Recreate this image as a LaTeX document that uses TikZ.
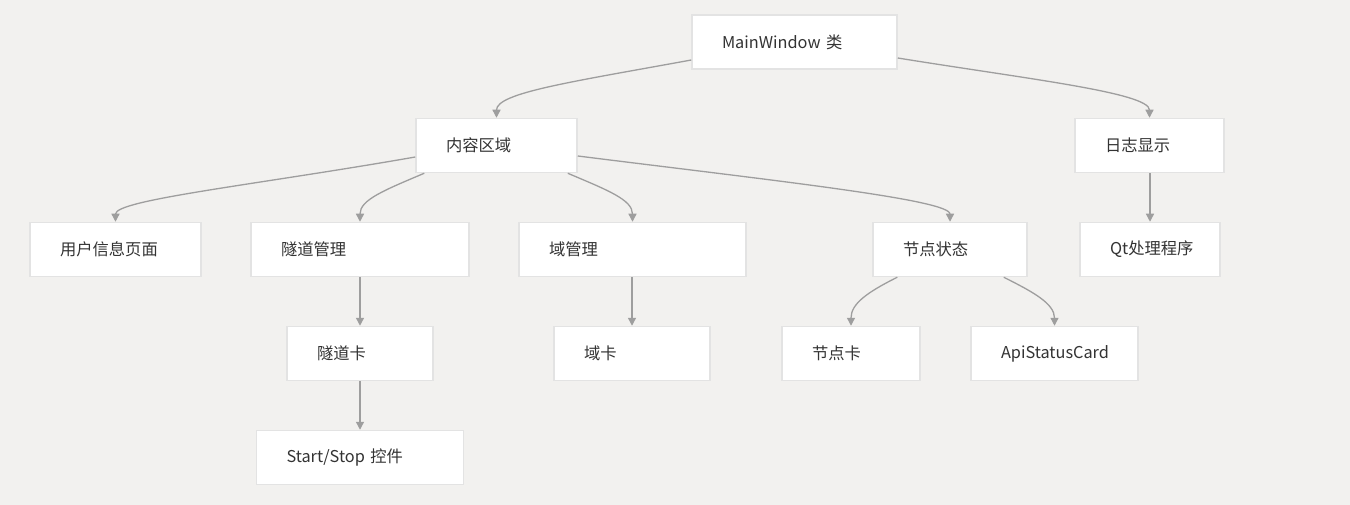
\documentclass[tikz,border=0pt]{standalone}
\usepackage{fontspec}
\setmainfont{Noto Sans CJK SC}
\usetikzlibrary{arrows.meta}
\definecolor{bgc}{HTML}{F2F1EF}
\definecolor{boxborder}{HTML}{E3E3E3}
\definecolor{edgec}{HTML}{9E9E9E}
\definecolor{txtc}{HTML}{333333}
\begin{document}
\begin{tikzpicture}[x=1pt,y=-1pt,
  box/.style={draw=boxborder,line width=1.5pt,fill=white,minimum height=54pt,
    inner xsep=30pt,inner ysep=0pt,align=left,
    font=\fontsize{16.3}{19}\selectfont,text=txtc,anchor=center},
  edge/.style={draw=edgec,line width=1.3pt,-{Triangle[length=8pt,width=8pt]}}]
\fill[bgc] (0,0) rectangle (1350,505);
\useasboundingbox (0,0) rectangle (1350,505);

\node[box,text width=145pt] (main) at (794.5,42) {MainWindow 类};
\node[box,text width=101pt] (content) at (496.5,145.5) {内容区域};
\node[box,text width=89pt] (log) at (1149.5,145.5) {日志显示};
\node[box,text width=111pt] (user) at (115.5,249.5) {用户信息页面};
\node[box,text width=158pt] (tunnel) at (360,249.5) {隧道管理};
\node[box,text width=167pt] (domain) at (632.5,249.5) {域管理};
\node[box,text width=94pt] (nodestat) at (950,249.5) {节点状态};
\node[box,text width=80pt] (qt) at (1150,249.5) {Qt处理程序};
\node[box,text width=86pt] (tcard) at (360,353.5) {隧道卡};
\node[box,text width=96pt] (dcard) at (632,353.5) {域卡};
\node[box,text width=78pt] (ncard) at (851,353.5) {节点卡};
\node[box,text width=107pt] (api) at (1054.5,353.5) {ApiStatusCard};
\node[box,text width=147pt] (ss) at (360,457.5) {Start/Stop 控件};

\draw[edge] ([yshift=-18pt]main.west) .. controls +(-120,22) and +(0,-25) .. (content.north);
\draw[edge] ([yshift=-16pt]main.east) .. controls +(130,21) and +(0,-25) .. (log.north);
\draw[edge] ([yshift=-11.5pt]content.west) .. controls +(-160,28) and +(0,-22) .. (user.north);
\draw[edge] ([xshift=9pt]content.south west) .. controls +(-40,17) and +(0,-22) .. (tunnel.north);
\draw[edge] ([xshift=-10pt]content.south east) .. controls +(40,17) and +(0,-22) .. (domain.north);
\draw[edge] ([yshift=-10.5pt]content.east) .. controls +(200,25) and +(0,-22) .. (nodestat.north);
\draw[edge] (qt.north |- log.south) -- (qt.north);
\draw[edge] (tcard.north |- tunnel.south) -- (tcard.north);
\draw[edge] (dcard.north |- domain.south) -- (dcard.north);
\draw[edge] (tcard.south) -- (ss.north);
\draw[edge] ([xshift=25pt]nodestat.south west) .. controls +(-30,15) and +(0,-22) .. (ncard.north);
\draw[edge] ([xshift=-24pt]nodestat.south east) .. controls +(30,15) and +(0,-22) .. (api.north);
\end{tikzpicture}
\end{document}
